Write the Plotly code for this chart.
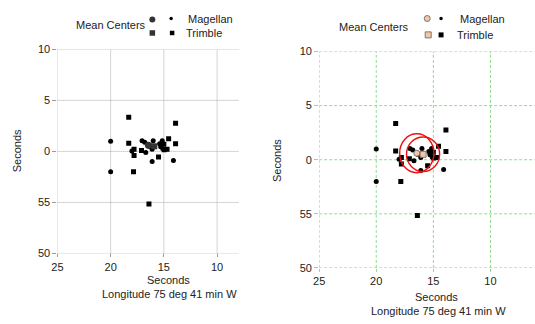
import plotly.graph_objects as go

# ---- data (seconds; y values: negative = previous minute, labelled 55, 50) ----
mag_x = [20.0, 20.0, 17.05, 16.0, 15.15, 16.1, 14.1, 18.0, 15.4, 16.7, 15.1, 16.1, 16.8, 15.3]
mag_y = [1.0, -2.0, 1.05, 1.05, 1.05, -1.0, -0.9, 0.05, 0.75, -0.1, 0.25, 0.2, 0.9, 0.45]
trim_x = [18.3, 18.3, 17.8, 17.8, 17.85, 16.4, 15.5, 14.7, 14.55, 13.9, 13.9, 17.1, 14.97, 16.3, 15.0]
trim_y = [3.35, 0.8, 0.2, -0.4, -2.0, -5.15, -0.55, 0.2, 1.25, 2.75, 0.75, 0.1, 0.16, 0.5, 0.7]
mean_x = [16.45, 15.9]          # Magellan, Trimble
mean_y = [0.6, 0.5]
circ_rx = [1.5, 1.45]
circ_ry = [1.8, 1.6]

y_tickvals = [-10, -5, 0, 5, 10]
y_ticktext = ["50", "55", "0", "5", "10"]
x_tickvals = [25, 20, 15, 10]
x_ticktext = ["25", "20", "15", "10"]

W, H = 535, 324
FONT = "Liberation Sans, Arial, sans-serif"
TXT = "#222222"
PEACH = "#f5c6a5"
GREEN = "#8fdc8f"

fig = go.Figure()

# left panel
fig.add_trace(go.Scatter(x=mag_x, y=mag_y, mode="markers", xaxis="x", yaxis="y",
                         marker=dict(symbol="circle", size=5, color="black"), showlegend=False))
fig.add_trace(go.Scatter(x=trim_x, y=trim_y, mode="markers", xaxis="x", yaxis="y",
                         marker=dict(symbol="square", size=5, color="black"), showlegend=False))
fig.add_trace(go.Scatter(x=mean_x[:1], y=mean_y[:1], mode="markers", xaxis="x", yaxis="y",
                         marker=dict(symbol="circle", size=7, color="#333333"), showlegend=False))
fig.add_trace(go.Scatter(x=mean_x[1:], y=mean_y[1:], mode="markers", xaxis="x", yaxis="y",
                         marker=dict(symbol="square", size=6, color="#333333"), showlegend=False))

# right panel
fig.add_trace(go.Scatter(x=mag_x, y=mag_y, mode="markers", xaxis="x2", yaxis="y2",
                         marker=dict(symbol="circle", size=5, color="black"), showlegend=False))
fig.add_trace(go.Scatter(x=trim_x, y=trim_y, mode="markers", xaxis="x2", yaxis="y2",
                         marker=dict(symbol="square", size=5, color="black"), showlegend=False))
fig.add_trace(go.Scatter(x=mean_x[:1], y=mean_y[:1], mode="markers", xaxis="x2", yaxis="y2",
                         marker=dict(symbol="circle", size=6, color=PEACH,
                                     line=dict(color="#777777", width=1)), showlegend=False))
fig.add_trace(go.Scatter(x=mean_x[1:], y=mean_y[1:], mode="markers", xaxis="x2", yaxis="y2",
                         marker=dict(symbol="square", size=6, color=PEACH,
                                     line=dict(color="#777777", width=1)), showlegend=False))

shapes = []

# grid lines (drawn as shapes so that the edge lines are kept)
for xa, ya, col, dash in [("x", "y", "#aaaaaa", "1px,1px"), ("x2", "y2", GREEN, "3px,2px")]:
    for v in x_tickvals:
        shapes.append(dict(type="line", xref=xa, yref=ya + " domain", x0=v, x1=v, y0=0, y1=1,
                           layer="below", line=dict(color=col, width=1, dash=dash)))
    for v in y_tickvals:
        shapes.append(dict(type="line", xref=xa + " domain", yref=ya, x0=0, x1=1, y0=v, y1=v,
                           layer="below", line=dict(color=col, width=1, dash=dash)))

for cx, cy, rx, ry in zip(mean_x, mean_y, circ_rx, circ_ry):
    shapes.append(dict(type="circle", xref="x2", yref="y2", x0=cx - rx, x1=cx + rx,
                       y0=cy - ry, y1=cy + ry, line=dict(color="#ee1111", width=1.4)))


def px(x):
    return x / W


def py(y):
    return 1 - y / H


def leg_marker(x, y, kind, size, fill, outline=None):
    shapes.append(dict(type=kind, xref="paper", yref="paper",
                       xsizemode="pixel", ysizemode="pixel",
                       xanchor=px(x), yanchor=py(y),
                       x0=-size / 2, x1=size / 2, y0=-size / 2, y1=size / 2,
                       fillcolor=fill,
                       line=dict(color=outline or fill, width=1 if outline else 0)))


# left legend
leg_marker(148, 14, "circle", 6, "#333333")
leg_marker(167, 13, "circle", 3.5, "black")
leg_marker(148, 28, "rect", 5.5, "#333333")
leg_marker(168, 28, "rect", 4.5, "black")
# right legend
leg_marker(426, 13, "circle", 6, PEACH, "#777777")
leg_marker(440, 13, "circle", 3.5, "black")
leg_marker(427, 30, "rect", 6, PEACH, "#777777")
leg_marker(440, 30, "rect", 5, "black")

ann = []


def text(x, y, s, xanchor="left", angle=0, size=11):
    ann.append(dict(x=px(x), y=py(y), xref="paper", yref="paper", text=s, showarrow=False,
                    xanchor=xanchor, yanchor="middle", textangle=angle,
                    font=dict(family=FONT, size=size, color=TXT)))


text(69, 20, "Mean Centers")
text(182, 14, "Magellan")
text(180, 28, "Trimble")
text(335, 22, "Mean Centers")
text(457, 14, "Magellan")
text(454, 30, "Trimble")
text(164, 285, "Seconds", "center")
text(165, 299, "Longitude 75 deg 41 min W", "center")
text(435, 302, "Seconds", "center")
text(437, 317, "Longitude 75 deg 41 min W", "center")
text(12, 150, "Seconds", "center", -90)
text(274, 160, "Seconds", "center", -90)

tickfont = dict(family=FONT, size=11, color=TXT)
common_y = dict(range=[-10, 10], tickmode="array", tickvals=y_tickvals,
                ticktext=y_ticktext, zeroline=False, showline=False, showgrid=False,
                ticks="outside", ticklen=4, tickfont=tickfont, fixedrange=True)
common_x = dict(tickmode="array", tickvals=x_tickvals, ticktext=x_ticktext,
                zeroline=False, showline=False, showgrid=False, ticks="outside", ticklen=3,
                tickfont=tickfont, fixedrange=True)

fig.update_layout(
    width=W, height=H, margin=dict(l=0, r=0, t=0, b=0),
    paper_bgcolor="white", plot_bgcolor="white",
    font=dict(family=FONT, size=11, color=TXT),
    xaxis=dict(domain=[52 / W, 235 / W], range=[25, 8], anchor="y",
               tickcolor="#999999", **common_x),
    yaxis=dict(domain=[1 - 257 / H, 1 - 45 / H], anchor="x",
               tickcolor="#999999", **common_y),
    xaxis2=dict(domain=[316.7 / W, 1.0], range=[25, 6.1], anchor="y2",
                tickcolor=GREEN, **common_x),
    yaxis2=dict(domain=[1 - 272 / H, 1 - 47.3 / H], anchor="x2",
                tickcolor=GREEN, **common_y),
    shapes=shapes, annotations=ann, showlegend=False,
)

fig.write_html("out.html")
